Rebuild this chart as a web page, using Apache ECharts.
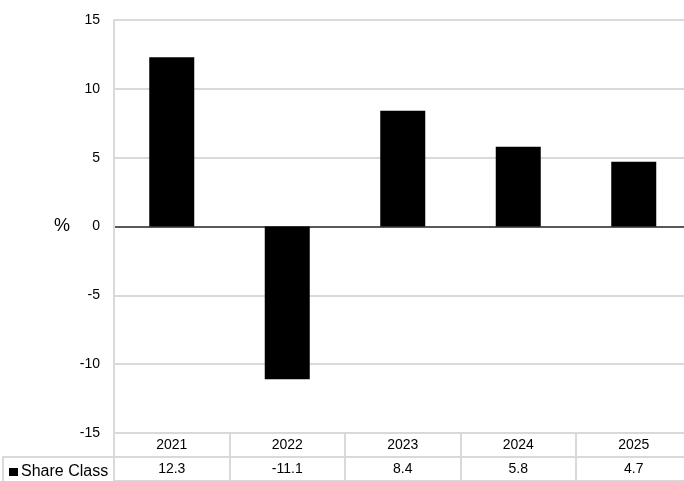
<!DOCTYPE html>
<html><head><meta charset="utf-8">
<script src="https://cdn.jsdelivr.net/npm/echarts@6/dist/echarts.min.js"></script>
<style>html,body{margin:0;padding:0;background:#fff}#c{width:684px;height:481px}</style>
</head><body><div id="c"></div>
<script>
var categories = ['2021','2022','2023','2024','2025'];
var shareClass = [12.3, -11.1, 8.4, 5.8, 4.7];
var seriesName = 'Share Class';
var yTicks = {min: -15, max: 15, interval: 5};

var FONT = "'Liberation Sans', Arial, sans-serif";
var GRID = '#d9d9d9';
var chart = echarts.init(document.getElementById('c'), null, {renderer: 'canvas'});
var splitColors = [];
for (var v = yTicks.min; v <= yTicks.max; v += yTicks.interval) splitColors.push(v === 0 ? '#595959' : GRID);

chart.setOption({
  animation: false,
  backgroundColor: '#fff',
  textStyle: {fontFamily: FONT},
  legend: {
    left: 4, top: 459, itemWidth: 9, itemHeight: 8, itemGap: 0,
    icon: 'rect', selectedMode: false,
    textStyle: {fontSize: 16, color: '#000', fontFamily: FONT, padding: [0,0,0,-2]},
    data: [seriesName]
  },
  grid: [
    {left: 114, right: -7.5, top: 20, bottom: 48, containLabel: false, outerBoundsMode: 'none'},
    {left: 114, right: -7.5, top: 433, bottom: 0, containLabel: false, outerBoundsMode: 'none'}
  ],
  xAxis: [
    {type: 'category', gridIndex: 0, data: categories, position: 'bottom',
     axisLine: {show: false}, axisTick: {show: false},
     axisLabel: {interval: 0, margin: 0, fontSize: 14, color: '#000', lineHeight: 24, fontFamily: FONT,
       formatter: function (val, idx) { return val + '\n' + shareClass[idx]; }}},
    {type: 'category', gridIndex: 1, data: categories,
     axisLine: {show: false}, axisTick: {show: false}, axisLabel: {show: false},
     splitLine: {show: true, interval: 0, lineStyle: {color: GRID, width: 2}}}
  ],
  yAxis: [
    {type: 'value', gridIndex: 0, min: yTicks.min, max: yTicks.max, interval: yTicks.interval,
     name: '%', nameLocation: 'middle', nameRotate: 0, nameGap: 44,
     nameTextStyle: {fontSize: 18, color: '#000', fontFamily: FONT},
     axisLine: {show: true, lineStyle: {color: GRID, width: 2}}, axisTick: {show: false},
     axisLabel: {fontSize: 14, color: '#000', margin: 14, fontFamily: FONT},
     splitLine: {show: true, lineStyle: {color: splitColors, width: 2}}},
    {type: 'value', gridIndex: 1, min: 0, max: 2, interval: 1,
     axisLine: {show: true, lineStyle: {color: GRID, width: 2}}, axisTick: {show: false},
     axisLabel: {show: false},
     splitLine: {show: true, lineStyle: {color: GRID, width: 2}}}
  ],
  graphic: [
    {type: 'line', shape: {x1: 3, y1: 457, x2: 114, y2: 457}, style: {stroke: GRID, lineWidth: 2}},
    {type: 'line', shape: {x1: 3, y1: 456, x2: 3, y2: 481}, style: {stroke: GRID, lineWidth: 2}}
  ],
  series: [
    {type: 'bar', name: seriesName, xAxisIndex: 0, yAxisIndex: 0, data: shareClass,
     barWidth: 45, itemStyle: {color: '#000'}}
  ]
});
</script></body></html>
